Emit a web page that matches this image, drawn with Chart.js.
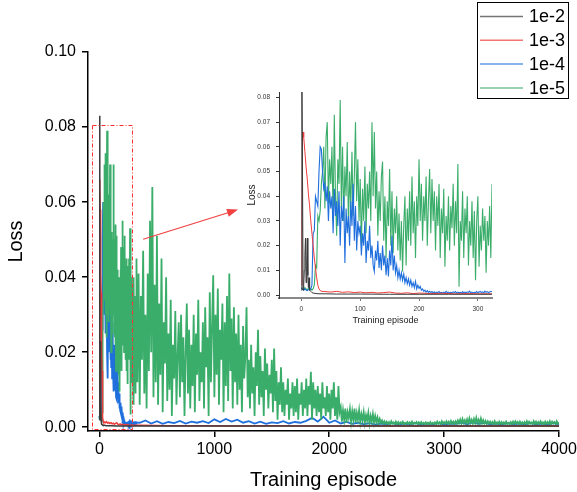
<!DOCTYPE html>
<html>
<head>
<meta charset="utf-8">
<script src="https://cdn.jsdelivr.net/npm/chart.js@4.4.0/dist/chart.umd.min.js"></script>
<style>
  html, body { margin: 0; padding: 0; background: #fff; }
  #wrap { position: relative; width: 577px; height: 492px; }
  #main { position: absolute; left: 0; top: 0; }
  #inset { position: absolute; left: 230px; top: 80px; }
</style>
</head>
<body>
<div id="wrap">
  <canvas id="main" width="577" height="492"></canvas>
  <canvas id="inset" width="270" height="250"></canvas>
</div>
<script>
const FONT = 'Liberation Sans, Arial, sans-serif';

const seriesLabels = ['1e-2', '1e-3', '1e-4', '1e-5'];
const seriesColors = ['#3a3a3a', '#ee3b3b', '#1f6fdd', '#3aad6a'];

// ---- early episodes (what the inset shows) ----
const blackEpisodes = [0, 1, 2, 3, 4, 5, 6, 7, 8, 9, 10, 11, 12, 13, 14, 16, 18, 20, 25, 30, 40, 60, 100, 150, 200, 250, 324];
const blackLoss = [0.002, 0.083, 0.046, 0.002, 0.004, 0.01, 0.016, 0.023, 0.005, 0.012, 0.023, 0.008, 0.003, 0.007, 0.002,
  0.0015, 0.001, 0.0008, 0.0006, 0.0005, 0.0005, 0.0004, 0.0004, 0.0003, 0.0003, 0.0003, 0.0003];

const redEpisodes = [0, 1, 2, 3, 4, 6, 8, 10, 12, 14, 16, 18, 20, 22, 24, 26, 28, 30, 32, 35, 40,
  50, 60, 70, 80, 90, 100, 110, 120, 130, 140, 150, 160, 170, 180, 190, 200, 220, 240, 260, 280, 300, 324];
const redLoss = [0.004, 0.03, 0.066, 0.066, 0.064, 0.058, 0.052, 0.047, 0.041, 0.036, 0.03, 0.025, 0.02,
  0.015, 0.011, 0.007, 0.004, 0.0025, 0.0018, 0.0015, 0.0014,
  0.0012, 0.0015, 0.0011, 0.0013, 0.001, 0.0012, 0.0009, 0.0011, 0.0008, 0.001, 0.0012, 0.0008, 0.0007, 0.0009, 0.0006, 0.0008,
  0.0006, 0.0007, 0.0005, 0.0006, 0.0005, 0.0005];

// blue and green logged every 2 episodes from 0 to 324
const earlyStep = 2;
const blueEarly = [
  0.003, 0.0022, 0.002, 0.0025, 0.002, 0.0018, 0.0022, 0.002, 0.0025, 0.004,
  0.025, 0.026, 0.04, 0.038, 0.036, 0.05, 0.06, 0.059, 0.05, 0.043,
  0.045, 0.038, 0.044, 0.03, 0.042, 0.035, 0.04, 0.025, 0.043, 0.032,
  0.038, 0.028, 0.042, 0.02, 0.036, 0.03, 0.04, 0.013, 0.035, 0.025,
  0.032, 0.02, 0.038, 0.028, 0.045, 0.022, 0.036, 0.018, 0.03, 0.025,
  0.028, 0.016, 0.025, 0.02, 0.03, 0.013, 0.022, 0.018, 0.028, 0.015,
  0.02, 0.012, 0.0095, 0.018, 0.014, 0.022, 0.011, 0.017, 0.01, 0.02,
  0.012, 0.016, 0.008, 0.015, 0.0075, 0.018, 0.012, 0.024, 0.01, 0.016,
  0.009, 0.012, 0.007, 0.01, 0.0065, 0.009, 0.006, 0.0085, 0.005, 0.007,
  0.0045, 0.0065, 0.004, 0.006, 0.0035, 0.005, 0.003, 0.0055, 0.0025, 0.004,
  0.0027, 0.0035, 0.002, 0.0025, 0.0015, 0.002, 0.0012, 0.0018, 0.0011, 0.0015,
  0.001, 0.0014, 0.0009, 0.0013, 0.0008, 0.0012, 0.001, 0.0014, 0.0009, 0.0011,
  0.0008, 0.0012, 0.0009, 0.0015, 0.001, 0.0012, 0.0008, 0.0011, 0.0009, 0.0013,
  0.001, 0.0014, 0.0008, 0.0012, 0.0009, 0.0011, 0.0008, 0.0013, 0.001, 0.0012,
  0.0009, 0.0013, 0.0011, 0.0016, 0.0009, 0.0012, 0.0008, 0.0011, 0.001, 0.0014,
  0.0009, 0.0012, 0.0015, 0.001, 0.0013, 0.0009, 0.0016, 0.0011, 0.0014, 0.001,
  0.0012, 0.0015, 0.0013
];
const greenEarly = [
  0.003, 0.0025, 0.002, 0.003, 0.0025, 0.002, 0.0028, 0.0022, 0.0025, 0.002,
  0.0026, 0.004, 0.012, 0.011, 0.032, 0.03, 0.034, 0.045, 0.05, 0.06,
  0.035, 0.064, 0.07, 0.037, 0.055, 0.045, 0.06, 0.03, 0.073, 0.04,
  0.024, 0.055, 0.045, 0.079, 0.035, 0.06, 0.03, 0.052, 0.04, 0.062,
  0.028, 0.05, 0.035, 0.058, 0.032, 0.048, 0.07, 0.038, 0.055, 0.03,
  0.047, 0.02, 0.043, 0.03, 0.052, 0.025, 0.045, 0.035, 0.05, 0.03,
  0.07, 0.04, 0.066, 0.035, 0.05, 0.024, 0.042, 0.03, 0.048, 0.054,
  0.022, 0.04, 0.015, 0.038, 0.028, 0.051, 0.02, 0.042, 0.017, 0.035,
  0.025, 0.04, 0.018, 0.033, 0.014, 0.03, 0.0095, 0.028, 0.04, 0.012,
  0.035, 0.022, 0.042, 0.02, 0.048, 0.025, 0.038, 0.015, 0.04, 0.028,
  0.055, 0.03, 0.045, 0.022, 0.04, 0.03, 0.048, 0.02, 0.038, 0.051,
  0.025, 0.047, 0.03, 0.042, 0.018, 0.04, 0.028, 0.045, 0.015, 0.035,
  0.025, 0.043, 0.0115, 0.032, 0.022, 0.04, 0.018, 0.036, 0.027, 0.045,
  0.02, 0.038, 0.025, 0.053, 0.0034, 0.03, 0.022, 0.042, 0.015, 0.035,
  0.025, 0.04, 0.012, 0.03, 0.02, 0.038, 0.015, 0.034, 0.006, 0.03,
  0.04, 0.0115, 0.028, 0.018, 0.035, 0.022, 0.032, 0.009, 0.03, 0.02,
  0.036, 0.015, 0.045
];

// ---- later episodes (main chart only) ----
const blackLateEpisodes = [500, 1000, 2000, 3000, 4000];
const blackLateLoss = [0.0003, 0.0003, 0.0003, 0.0003, 0.0003];

const redLateEpisodes = [350, 600, 900, 1200, 1500, 1800, 2100, 2400, 2700, 3000, 3300, 3600, 4000];
const redLateLoss = [0.0005, 0.0004, 0.0004, 0.0003, 0.0004, 0.0003, 0.0003, 0.0003, 0.0003, 0.0003, 0.0003, 0.0003, 0.0003];

const blueLateStart = 350, blueLateStep = 50;
const blueLate = [
  0.0012, 0.0018, 0.001, 0.0016, 0.0009, 0.0014, 0.0011, 0.0017, 0.001, 0.0015,
  0.0012, 0.0016, 0.0011, 0.0021, 0.0014, 0.0022, 0.0015, 0.002, 0.0012, 0.0016,
  0.001, 0.0015, 0.0009, 0.0013, 0.0011, 0.0016, 0.001, 0.0014, 0.0012, 0.0017,
  0.0025, 0.0015, 0.0028, 0.0012, 0.0018, 0.001, 0.0014, 0.0009, 0.0012, 0.0008,
  0.0011, 0.0007, 0.001, 0.0008, 0.0011, 0.0007, 0.001, 0.0008, 0.0011, 0.0007,
  0.001, 0.0008, 0.0011, 0.0007, 0.001, 0.0009, 0.0012, 0.0008, 0.0013, 0.0009,
  0.0012, 0.0008, 0.001, 0.0007, 0.0011, 0.0008, 0.001, 0.0007, 0.0011, 0.0008,
  0.001, 0.0007, 0.0011, 0.0008
];

const greenLateStart = 330, greenLateStep = 10;
const greenLate = [
  0.012, 0.041, 0.006, 0.035, 0.018, 0.047, 0.009,
  0.03, 0.005, 0.041, 0.015, 0.055, 0.02, 0.064, 0.008, 0.038, 0.012,
  0.051, 0.006, 0.033, 0.014, 0.045, 0.004, 0.028, 0.017, 0.04, 0.007,
  0.025, 0.01, 0.034, 0.003, 0.022, 0.013, 0.031, 0.006, 0.019, 0.028,
  0.008, 0.03, 0.012, 0.024, 0.003, 0.02, 0.033, 0.009, 0.026, 0.005,
  0.022, 0.011, 0.03, 0.004, 0.025, 0.014, 0.034, 0.007, 0.02, 0.012,
  0.028, 0.005, 0.032, 0.016, 0.024, 0.003, 0.036, 0.012, 0.027, 0.0405,
  0.008, 0.03, 0.014, 0.037, 0.006, 0.026, 0.018, 0.033, 0.004, 0.028,
  0.011, 0.035, 0.007, 0.041, 0.015, 0.029, 0.005, 0.032, 0.012, 0.025,
  0.006, 0.03, 0.01, 0.022, 0.004, 0.027, 0.013, 0.019, 0.032, 0.008,
  0.018, 0.005, 0.022, 0.009, 0.016, 0.003, 0.02, 0.011, 0.026, 0.006,
  0.019, 0.008, 0.015, 0.003, 0.021, 0.01, 0.017, 0.005, 0.014, 0.009,
  0.018, 0.004, 0.021, 0.007, 0.015, 0.002, 0.012, 0.006, 0.016, 0.004,
  0.012, 0.003, 0.01, 0.006, 0.013, 0.002, 0.009, 0.005, 0.012, 0.003,
  0.011, 0.004, 0.013, 0.002, 0.009, 0.006, 0.012, 0.003, 0.01, 0.005,
  0.013, 0.003, 0.011, 0.006, 0.0148, 0.002, 0.012, 0.005, 0.01, 0.003,
  0.011, 0.004, 0.009, 0.002, 0.012, 0.005, 0.008, 0.003, 0.011, 0.004,
  0.009, 0.002, 0.01, 0.005, 0.012, 0.003, 0.008, 0.002, 0.011, 0.004,
  0.0053, 0.0015, 0.0045, 0.002, 0.005, 0.0012, 0.004, 0.0025, 0.0048, 0.0015,
  0.0042, 0.0018, 0.005, 0.0012, 0.0038, 0.002, 0.0045, 0.0013, 0.0035, 0.0018,
  0.004, 0.0012, 0.0032, 0.0018, 0.0038, 0.001, 0.003, 0.0015, 0.0035, 0.0012,
  0.003, 0.0014, 0.0026, 0.001, 0.0022, 0.0012, 0.0018, 0.001, 0.0016, 0.0009,
  0.0015, 0.0009, 0.0014, 0.0008, 0.0016, 0.001, 0.0013, 0.0008, 0.0015, 0.0009,
  0.0014, 0.0008, 0.0013, 0.001, 0.0015, 0.0008, 0.0012, 0.0009, 0.0014, 0.0008,
  0.0013, 0.0009, 0.0015, 0.0008, 0.0012, 0.001, 0.0014, 0.0008, 0.0013, 0.0009,
  0.0014, 0.0008, 0.0012, 0.0009, 0.0013, 0.0007, 0.0012, 0.0009, 0.0014, 0.0008,
  0.0012, 0.0009, 0.0013, 0.0008, 0.0015, 0.0009, 0.0013, 0.0008, 0.0016, 0.001,
  0.0014, 0.0009, 0.0016, 0.001, 0.0015, 0.0008, 0.0017, 0.001, 0.0015, 0.0009,
  0.0016, 0.001, 0.0018, 0.0011, 0.002, 0.001, 0.0022, 0.0012, 0.0019, 0.001,
  0.0021, 0.0011, 0.0024, 0.0012, 0.002, 0.001, 0.0022, 0.0011, 0.0025, 0.0012,
  0.002, 0.001, 0.0023, 0.0011, 0.0019, 0.001, 0.0017, 0.0009, 0.0016, 0.001,
  0.0015, 0.0009, 0.0014, 0.0008, 0.0016, 0.0009, 0.0013, 0.0008, 0.0015, 0.0009,
  0.0014, 0.0008, 0.0013, 0.0009, 0.0015, 0.0008, 0.0012, 0.0009, 0.0014, 0.0008,
  0.0015, 0.0009, 0.0016, 0.001, 0.0014, 0.0008, 0.0015, 0.0009, 0.0013, 0.0008,
  0.0014, 0.0009, 0.0016, 0.0008, 0.0015, 0.001, 0.0013, 0.0008, 0.0016, 0.0009,
  0.0015, 0.0008, 0.0014, 0.001, 0.0016, 0.0009, 0.0013, 0.0008, 0.0015, 0.0009,
  0.0014, 0.0009, 0.0016, 0.0008, 0.0015, 0.001, 0.0014, 0.0009, 0.0016, 0.0009,
  0.0013
];

const mainYTicks = [0, 0.02, 0.04, 0.06, 0.08, 0.10];
const mainXTicks = [0, 1000, 2000, 3000, 4000];
const insetYTicks = [0, 0.01, 0.02, 0.03, 0.04, 0.05, 0.06, 0.07, 0.08];
const insetXTicks = [0, 100, 200, 300];

// helpers
const pairs = (xs, ys) => ys.map((y, i) => ({ x: xs[i], y }));
const stepped = (start, step, ys) => ys.map((y, i) => ({ x: start + i * step, y }));

const earlySeries = [
  pairs(blackEpisodes, blackLoss),
  pairs(redEpisodes, redLoss),
  stepped(0, earlyStep, blueEarly),
  stepped(0, earlyStep, greenEarly)
];
const mainSeries = [
  earlySeries[0].concat(pairs(blackLateEpisodes, blackLateLoss)),
  earlySeries[1].concat(pairs(redLateEpisodes, redLateLoss)),
  earlySeries[2].concat(stepped(blueLateStart, blueLateStep, blueLate)),
  earlySeries[3].concat(stepped(greenLateStart, greenLateStep, greenLate))
];

// widths: line width per series; order: lower number is drawn on top
function makeDatasets(series, widths, orders) {
  return series.map((data, i) => ({
    label: seriesLabels[i],
    data: data,
    borderColor: seriesColors[i],
    borderWidth: widths[i],
    order: orders[i],
    pointRadius: 0,
    tension: 0,
    fill: false,
    clip: 0
  }));
}

function fixedTicks(values) {
  return scale => { scale.ticks = values.map(v => ({ value: v })); };
}

// red dash-dot zoom box + arrow, and the boxed legend
const overlayPlugin = {
  id: 'overlay',
  afterDatasetsDraw(chart) {
    const { ctx, scales: { x, y } } = chart;
    ctx.save();
    // zoom region
    const x0 = x.getPixelForValue(-63), x1 = x.getPixelForValue(287);
    const y0 = y.getPixelForValue(0.0805), y1 = y.getPixelForValue(-0.0004);
    ctx.strokeStyle = '#ff3030';
    ctx.lineWidth = 1;
    ctx.setLineDash([4, 2, 1, 2]);
    ctx.strokeRect(Math.round(x0) + 0.5, Math.round(y0) + 0.5, Math.round(x1 - x0), Math.round(y1 - y0));
    ctx.setLineDash([]);
    // arrow to the inset
    const ax = x.getPixelForValue(380), ay = y.getPixelForValue(0.0501);
    const bx = x.getPixelForValue(1206), by = y.getPixelForValue(0.058);
    const ang = Math.atan2(by - ay, bx - ax);
    ctx.strokeStyle = '#f04040';
    ctx.fillStyle = '#f04040';
    ctx.lineWidth = 1.2;
    ctx.beginPath();
    ctx.moveTo(ax, ay);
    ctx.lineTo(bx - 8 * Math.cos(ang), by - 8 * Math.sin(ang));
    ctx.stroke();
    ctx.beginPath();
    ctx.moveTo(bx, by);
    ctx.lineTo(bx - 11 * Math.cos(ang) + 4 * Math.sin(ang), by - 11 * Math.sin(ang) - 4 * Math.cos(ang));
    ctx.lineTo(bx - 11 * Math.cos(ang) - 4 * Math.sin(ang), by - 11 * Math.sin(ang) + 4 * Math.cos(ang));
    ctx.closePath();
    ctx.fill();
    ctx.restore();
  },
  afterDraw(chart) {
    const ctx = chart.ctx;
    ctx.save();
    ctx.strokeStyle = '#000';
    ctx.lineWidth = 1;
    ctx.strokeRect(477.5, 2.5, 91, 96);
    ctx.font = '18px ' + FONT;
    ctx.textBaseline = 'middle';
    ctx.fillStyle = '#000';
    chart.data.datasets.forEach((ds, i) => {
      const yy = 16.5 + i * 23.8;
      ctx.strokeStyle = ds.borderColor;
      ctx.lineWidth = 1.5;
      ctx.globalAlpha = 0.7;
      ctx.beginPath();
      ctx.moveTo(480, yy);
      ctx.lineTo(523, yy);
      ctx.stroke();
      ctx.globalAlpha = 1;
      ctx.fillText(ds.label, 529, yy + 1);
    });
    ctx.restore();
  }
};

new Chart(document.getElementById('main'), {
  type: 'line',
  data: { datasets: makeDatasets(mainSeries, [1.5, 1.5, 1.8, 1.8], [0, 1, 3, 2]) },
  options: {
    responsive: false,
    animation: false,
    events: [],
    normalized: true,
    layout: { padding: { left: 0, top: 52, right: 18, bottom: 0 } },
    plugins: { legend: { display: false }, tooltip: { enabled: false } },
    scales: {
      x: {
        type: 'linear', min: -100, max: 4000,
        afterBuildTicks: fixedTicks(mainXTicks),
        afterFit: s => { s.height = 61; s.paddingLeft = 0; s.paddingRight = 0; },
        grid: { drawOnChartArea: false, drawTicks: true, tickLength: 6, color: '#000', lineWidth: 1.5 },
        border: { color: '#000', width: 1.5 },
        ticks: { font: { family: FONT, size: 16 }, color: '#000', padding: 3, maxRotation: 0, callback: v => String(v) },
        title: { display: true, text: 'Training episode', color: '#000', font: { family: FONT, size: 20 }, padding: { top: 0, bottom: 0 } }
      },
      y: {
        type: 'linear', min: -0.001, max: 0.1,
        afterBuildTicks: fixedTicks(mainYTicks),
        afterFit: s => { s.width = 88; s.paddingTop = 0; s.paddingBottom = 0; },
        grid: { drawOnChartArea: false, drawTicks: true, tickLength: 6, color: '#000', lineWidth: 1.5 },
        border: { color: '#000', width: 1.5 },
        ticks: { font: { family: FONT, size: 16 }, color: '#000', padding: 6, callback: v => v.toFixed(2) },
        title: { display: true, text: 'Loss', color: '#000', font: { family: FONT, size: 20 }, padding: { top: 4, bottom: 0 } }
      }
    }
  },
  plugins: [overlayPlugin]
});

new Chart(document.getElementById('inset'), {
  type: 'line',
  data: { datasets: makeDatasets(earlySeries, [1, 1, 1.1, 1.1], [0, 1, 2, 3]) },
  options: {
    responsive: false,
    animation: false,
    events: [],
    layout: { padding: { left: 0, top: 12, right: 8, bottom: 0 } },
    plugins: { legend: { display: false }, tooltip: { enabled: false } },
    scales: {
      x: {
        type: 'linear', min: -38, max: 324,
        afterBuildTicks: fixedTicks(insetXTicks),
        afterFit: s => { s.height = 32; s.paddingLeft = 0; s.paddingRight = 0; },
        grid: { drawOnChartArea: false, drawTicks: true, tickLength: 3, color: '#777', lineWidth: 1 },
        border: { color: '#888', width: 2 },
        ticks: { font: { family: FONT, size: 6.5 }, color: '#333', padding: 4, maxRotation: 0, callback: v => String(v) },
        title: { display: true, text: 'Training episode', color: '#222', font: { family: FONT, size: 9 }, padding: { top: 0, bottom: 4.5 } }
      },
      y: {
        type: 'linear', min: -0.0012, max: 0.0822,
        afterBuildTicks: fixedTicks(insetYTicks),
        afterFit: s => { s.width = 49; s.paddingTop = 0; s.paddingBottom = 0; },
        grid: { drawOnChartArea: false, drawTicks: true, tickLength: 3, color: '#333', lineWidth: 1 },
        border: { color: '#333', width: 1 },
        ticks: { font: { family: FONT, size: 6.5 }, color: '#333', padding: 6, callback: v => v.toFixed(2) },
        title: { display: true, text: 'Loss', color: '#222', font: { family: FONT, size: 10 }, padding: { top: 16.5, bottom: 0 } }
      }
    }
  }
});
</script>
</body>
</html>
